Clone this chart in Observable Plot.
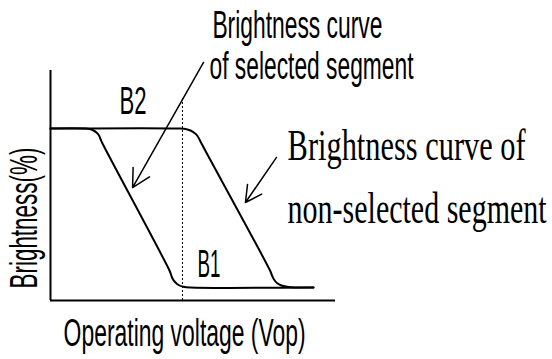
<!DOCTYPE html>
<html><head><meta charset="utf-8">
<script src="https://cdn.jsdelivr.net/npm/d3@7"></script>
<script src="https://cdn.jsdelivr.net/npm/@observablehq/plot@0.6"></script>
<style>body{margin:0;background:#fff} #chart svg{display:block;background:#fff}</style>
</head><body><div id="chart"></div>
<script>
// Operating voltage (arbitrary units, 0–100) vs brightness (%)
const selectedVoltage = [0, 11.93, 13.68, 15.09, 16.14, 17.02, 17.54, 18.07, 41.75, 42.28, 42.81, 43.68, 44.91, 46.67, 49.12, 92.28];
const selectedBrightness = [74.78, 74.78, 74.57, 73.91, 73.04, 71.74, 70.22, 68.70, 13.04, 11.30, 9.57, 8.04, 6.74, 5.96, 5.65, 5.65];
const nonSelectedVoltage = [0, 45.61, 47.37, 49.12, 50.53, 51.58, 52.28, 52.98, 77.19, 77.72, 78.42, 79.47, 81.05, 83.51, 86.32, 92.28];
const nonSelectedBrightness = [74.78, 74.78, 74.57, 73.91, 72.83, 71.52, 70.00, 68.26, 12.61, 10.87, 9.13, 7.61, 6.52, 5.83, 5.65, 5.65];

// dotted operating-point marker
const markerVoltage = [46.3];
const markerTop = [87.8];

// annotation arrows (tail -> head)
const arrowX1 = [53.7, 79.3];
const arrowY1 = [103.5, 62.2];
const arrowX2 = [28.8, 68.4];
const arrowY2 = [49.1, 42.6];

// labels
const sansLabels = ["Brightness curve", "of selected segment", "B2", "B1", "Operating voltage (Vop)"];
const sansX = [56.8, 55.8, 24.2, 51.6, 4.6];
const sansY = [114.3, 96.1, 81.3, 10.4, -19.6];
const serifLabels = ["Brightness curve of", "non-selected segment"];
const serifX = [83.2, 83.2];
const serifY = [60.9, 33.9];
const yLabel = ["Brightness(%)"];

// style: rendered widths of the condensed lettering
const labelWidths = {
  "Brightness curve": 170, "of selected segment": 204, "B2": 27, "B1": 23,
  "Operating voltage (Vop)": 242, "Brightness curve of": 238,
  "non-selected segment": 259, "Brightness(%)": 141
};

const sel = selectedVoltage.map((v, i) => ({v, b: selectedBrightness[i]}));
const non = nonSelectedVoltage.map((v, i) => ({v, b: nonSelectedBrightness[i]}));
const arrows = arrowX1.map((x, i) => ({x1: x, y1: arrowY1[i], x2: arrowX2[i], y2: arrowY2[i]}));
const sansData = sansLabels.map((t, i) => ({t, x: sansX[i], y: sansY[i]}));
const serifData = serifLabels.map((t, i) => ({t, x: serifX[i], y: serifY[i]}));

const chart = Plot.plot({
  width: 552, height: 359,
  marginLeft: 50, marginRight: 217, marginTop: 70, marginBottom: 59,
  x: {domain: [0, 100], axis: null},
  y: {domain: [0, 100], axis: null},
  marks: [
    Plot.ruleX([0], {y1: 0, y2: 100, stroke: "black", strokeWidth: 2}),
    Plot.ruleY([0], {x1: 0, x2: 100, stroke: "black", strokeWidth: 2}),
    Plot.ruleX(markerVoltage, {x: d => d, y1: 0, y2: markerTop[0], stroke: "black", strokeWidth: 1, strokeDasharray: "2,2"}),
    Plot.line(sel, {x: "v", y: "b", curve: "catmull-rom", stroke: "black", strokeWidth: 2}),
    Plot.line(non, {x: "v", y: "b", curve: "catmull-rom", stroke: "black", strokeWidth: 2}),
    Plot.arrow(arrows, {x1: "x1", y1: "y1", x2: "x2", y2: "y2", stroke: "black", strokeWidth: 1.5, headLength: 20, headAngle: 56}),
    Plot.text(sansData, {x: "x", y: "y", text: "t", textAnchor: "start", lineAnchor: "bottom", fontSize: 38, fontFamily: "Liberation Sans, Arial, sans-serif", fill: "black"}),
    Plot.text(serifData, {x: "x", y: "y", text: "t", textAnchor: "start", lineAnchor: "bottom", fontSize: 44, fontFamily: "Liberation Serif, Times New Roman, serif", fill: "black"}),
    Plot.text(yLabel, {x: -4.9, y: 5.2, text: d => d, rotate: -90, textAnchor: "start", lineAnchor: "bottom", fontSize: 38, fontFamily: "Liberation Sans, Arial, sans-serif", fill: "black"})
  ]
});

d3.select(chart).selectAll("text").each(function () {
  const w = labelWidths[this.textContent];
  if (w) {
    this.setAttribute("textLength", w);
    this.setAttribute("lengthAdjust", "spacingAndGlyphs");
  }
});
document.getElementById("chart").appendChild(chart);
</script>
</body></html>
